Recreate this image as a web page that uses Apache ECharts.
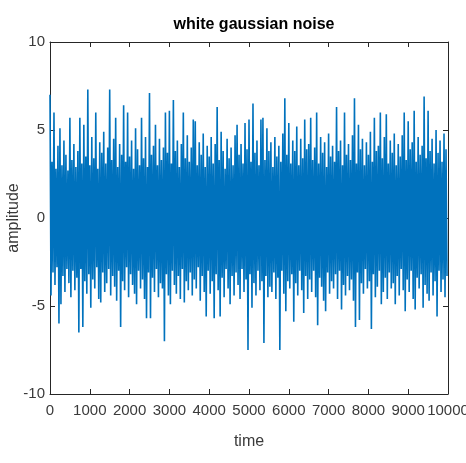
<!DOCTYPE html>
<html>
<head>
<meta charset="utf-8">
<script src="https://cdn.jsdelivr.net/npm/echarts@6/dist/echarts.min.js"></script>
<style>html,body{margin:0;padding:0;background:#fff}#c{width:466px;height:463px}</style>
</head>
<body>
<div id="c"></div>
<script>
// Sampling step of the estimated envelope (time units per peak/trough pair)
var step = 50;
// Upper excursions (peaks), one per 50 time units
var upperPeaks = [
 7.0,3.2,6.0,2.8,4.1,5.1,3.0,4.4,3.6,2.7,
 5.7,3.3,4.2,2.9,3.8,5.7,3.1,5.3,3.5,7.3,
 3.0,4.6,3.4,6.0,2.8,4.3,3.7,4.9,3.1,4.0,
 7.3,3.3,4.5,5.7,2.9,4.2,3.6,6.4,3.2,6.0,
 3.5,4.4,2.8,5.1,3.9,3.0,5.7,3.4,4.6,2.9,
 7.1,3.6,4.1,5.3,3.0,4.5,3.3,4.0,6.0,3.7,
 6.1,3.1,6.7,3.8,4.4,2.9,4.2,6.0,3.4,4.7,
 3.2,4.0,5.6,5.5,3.0,4.3,3.6,4.8,2.9,4.1,
 3.5,4.6,3.1,4.2,6.3,3.3,4.9,3.8,2.8,4.5,
 3.4,4.0,3.0,4.7,5.3,3.6,4.2,3.1,5.4,3.9,
 5.6,3.2,6.5,3.7,4.4,3.0,5.6,5.7,3.3,5.1,
 3.8,4.3,2.9,4.6,3.5,4.1,3.2,4.8,6.8,3.6,
 5.4,3.1,4.4,3.8,5.2,3.0,4.5,3.4,5.6,3.9,
 4.2,5.7,3.3,4.0,6.0,3.1,4.6,3.7,4.3,2.9,
 4.8,3.5,4.1,3.2,6.3,3.8,4.4,3.0,6.0,3.6,
 4.2,3.3,4.7,6.8,3.1,5.3,3.9,4.5,3.0,4.3,
 3.6,4.9,3.2,5.7,3.8,4.1,6.0,3.4,4.6,5.9,
 3.1,4.4,3.7,4.8,3.0,4.2,3.5,4.7,6.0,3.3,
 5.5,3.9,4.3,6.1,3.2,4.6,3.6,4.1,6.9,3.4,
 6.1,3.8,4.5,3.1,5.0,3.7,4.4,3.2,4.8,3.9
];
// Lower excursions (troughs), offset by half a step
var lowerTroughs = [
 -4.4,-3.1,-3.8,-2.8,-6.0,-4.9,-3.3,-4.2,-2.9,-3.7,
 -4.5,-3.0,-4.1,-3.4,-6.5,-2.9,-6.2,-3.6,-4.3,-3.2,
 -5.1,-3.5,-4.0,-2.8,-4.6,-4.8,-3.1,-4.2,-3.7,-2.9,
 -4.4,-3.3,-3.9,-4.7,-3.0,-6.2,-3.6,-4.1,-2.8,-4.5,
 -3.2,-3.8,-4.3,-4.9,-3.0,-4.0,-3.5,-4.6,-5.7,-3.1,
 -5.7,-3.4,-4.2,-2.9,-4.5,-3.7,-4.0,-7.0,-3.2,-4.4,
 -4.9,-3.0,-3.8,-4.3,-3.3,-4.6,-2.9,-4.8,-3.6,-4.1,
 -3.1,-4.4,-3.5,-4.0,-2.8,-4.7,-3.3,-4.2,-5.6,-3.0,
 -4.3,-3.6,-5.7,-3.2,-4.1,-5.6,-3.4,-4.5,-2.9,-4.0,
 -4.9,-3.3,-4.4,-3.1,-3.8,-4.6,-2.9,-4.2,-3.5,-7.5,
 -3.2,-5.1,-3.7,-4.4,-3.0,-4.1,-3.6,-7.1,-3.3,-4.5,
 -3.9,-4.2,-3.1,-4.6,-3.4,-7.5,-3.0,-4.3,-5.3,-3.6,
 -4.0,-3.2,-5.9,-3.7,-4.4,-3.0,-4.1,-5.4,-3.3,-4.6,
 -3.5,-4.2,-3.0,-4.5,-6.1,-3.4,-3.9,-4.7,-5.3,-3.1,
 -4.3,-3.6,-4.0,-3.2,-4.6,-3.0,-5.2,-3.8,-4.4,-3.3,
 -4.1,-3.5,-4.7,-6.2,-3.1,-5.8,-3.7,-4.3,-2.9,-4.0,
 -3.6,-6.3,-3.2,-4.5,-3.9,-3.0,-4.9,-4.2,-3.4,-4.6,
 -3.1,-4.0,-3.7,-4.9,-3.3,-4.4,-2.9,-4.1,-5.3,-3.5,
 -4.2,-3.0,-4.6,-5.2,-3.4,-4.0,-3.2,-5.1,-3.8,-4.3,
 -4.7,-3.1,-4.4,-3.6,-5.6,-3.0,-4.2,-3.5,-4.5,-3.3
];
var xTicks = [0,1000,2000,3000,4000,5000,6000,7000,8000,9000,10000];
var yTicks = [-10,-5,0,5,10];

var data = [];
for (var i = 0; i < upperPeaks.length; i++) {
  data.push([i * step, upperPeaks[i]]);
  data.push([i * step + step / 2, lowerTroughs[i]]);
}

var axisColor = '#262626';
var labelFont = '"Liberation Sans Narrow", "Arial Narrow", "Liberation Sans", sans-serif';
function plain(v) { return String(v); }
function xAxisCfg(pos, showLabel) {
  return {
    type: 'value', position: pos, min: xTicks[0], max: xTicks[xTicks.length - 1], interval: 1000,
    axisLine: { show: true, onZero: false, lineStyle: { color: axisColor, width: 1 } },
    axisTick: { show: true, inside: true, length: 5, lineStyle: { color: axisColor } },
    axisLabel: { show: showLabel, color: '#3a3a3a', fontSize: 15, fontFamily: labelFont, margin: 9, formatter: plain, showMinLabel: true, showMaxLabel: true, hideOverlap: false },
    splitLine: { show: false }
  };
}
function yAxisCfg(pos, showLabel) {
  return {
    type: 'value', position: pos, min: yTicks[0], max: yTicks[yTicks.length - 1], interval: 5,
    axisLine: { show: true, onZero: false, lineStyle: { color: axisColor, width: 1 } },
    axisTick: { show: true, inside: true, length: 5, lineStyle: { color: axisColor } },
    axisLabel: { show: showLabel, color: '#3a3a3a', fontSize: 15, fontFamily: labelFont, margin: 5, formatter: plain },
    splitLine: { show: false }
  };
}
var xb = xAxisCfg('bottom', true);
xb.name = 'time'; xb.nameLocation = 'middle'; xb.nameGap = 40; xb.nameMoveOverlap = false;
xb.nameTextStyle = { color: '#3a3a3a', fontSize: 16, fontFamily: labelFont };
var yl = yAxisCfg('left', true);
yl.name = 'amplitude'; yl.nameLocation = 'middle'; yl.nameGap = 28; yl.nameMoveOverlap = false;
yl.nameTextStyle = { color: '#3a3a3a', fontSize: 16, fontFamily: labelFont };

var chart = echarts.init(document.getElementById('c'), null, { renderer: 'canvas' });
chart.setOption({
  animation: false,
  backgroundColor: '#ffffff',
  title: {
    text: 'white gaussian noise', left: 249, top: 12, textAlign: 'center',
    textStyle: { color: '#000', fontSize: 16, fontWeight: 'bold', fontFamily: labelFont }
  },
  grid: { left: 50, right: 18, top: 42, bottom: 69, containLabel: false, outerBoundsMode: 'none' },
  xAxis: [xb, xAxisCfg('top', false)],
  yAxis: [yl, yAxisCfg('right', false)],
  series: [{
    type: 'line', data: data, showSymbol: false, symbol: 'none', sampling: null,
    lineStyle: { color: '#0072BD', width: 1.6 }, silent: true
  }]
});
</script>
</body>
</html>
